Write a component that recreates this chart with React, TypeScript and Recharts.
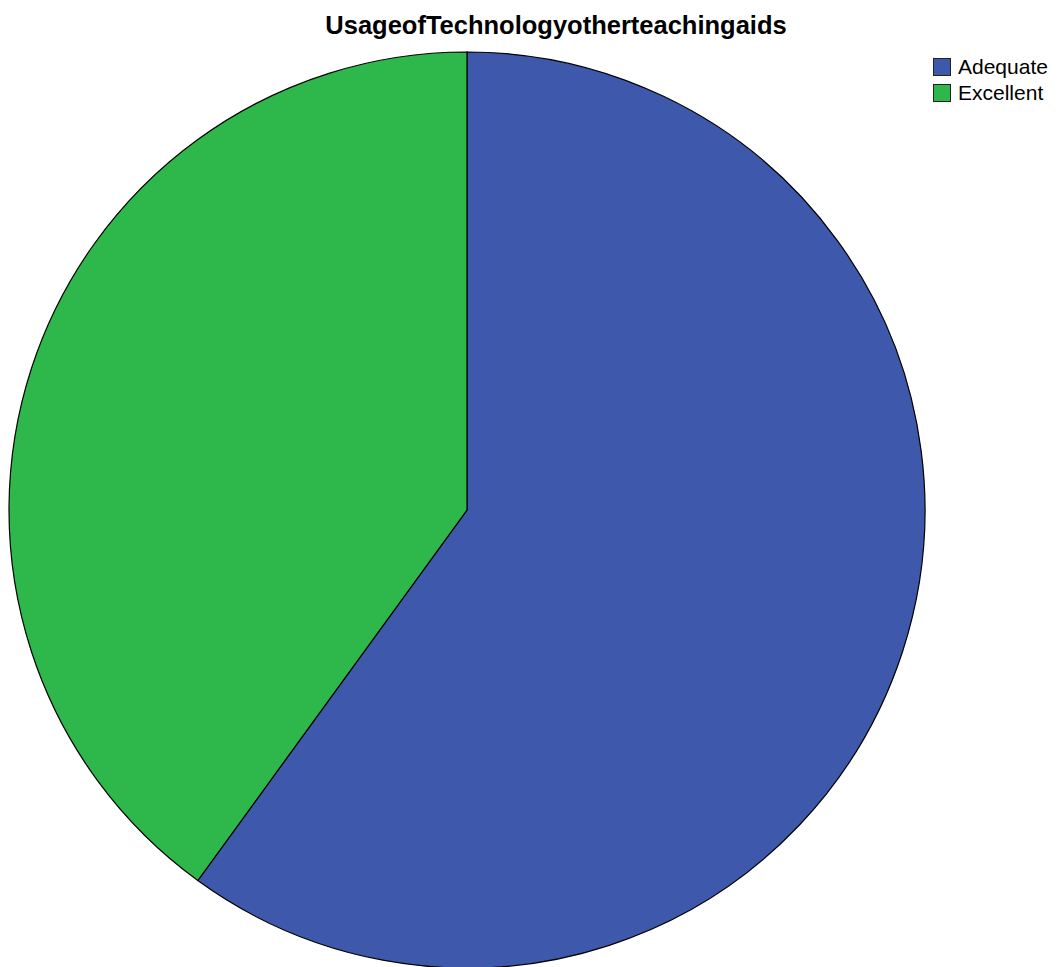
import React from 'react';
import { PieChart, Pie, Cell, Legend } from 'recharts';

const categories = ['Adequate', 'Excellent'];
const values = [60, 40];
const colors = ['#3E58AC', '#2EB84B'];
const title = 'UsageofTechnologyotherteachingaids';

const data = categories.map((name, i) => ({ name, value: values[i] }));

const LegendContent = () => (
  <div style={{ fontFamily: '"Liberation Sans", Arial, sans-serif', fontSize: 21, color: '#000' }}>
    {data.map((d, i) => (
      <div key={d.name} style={{ display: 'flex', alignItems: 'center', height: 26 }}>
        <div
          style={{
            width: 18,
            height: 18,
            background: colors[i],
            border: '1px solid #222',
            marginRight: 7,
            boxSizing: 'border-box',
          }}
        />
        <span style={{ lineHeight: '26px' }}>{d.name}</span>
      </div>
    ))}
  </div>
);

export default function App() {
  return (
    <div style={{ position: 'absolute', left: 0, top: 0, width: 1058, height: 967, background: '#fff' }}>
      <div
        style={{
          position: 'absolute',
          left: 0,
          width: 1112,
          top: 8,
          textAlign: 'center',
          fontFamily: '"Liberation Sans", Arial, sans-serif',
          fontWeight: 'bold',
          fontSize: 25.5,
          lineHeight: '34px',
          color: '#000',
          zIndex: 2,
        }}
      >
        {title}
      </div>
      <PieChart width={1058} height={967} margin={{ top: 0, right: 0, bottom: 0, left: 0 }}>
        <Pie
          data={data}
          dataKey="value"
          nameKey="name"
          cx={467}
          cy={510}
          outerRadius={458}
          startAngle={90}
          endAngle={-270}
          stroke="#000"
          strokeWidth={1.2}
          isAnimationActive={false}
          label={false}
          labelLine={false}
        >
          {data.map((d, i) => (
            <Cell key={d.name} fill={colors[i]} />
          ))}
        </Pie>
        <Legend
          layout="vertical"
          align="right"
          verticalAlign="top"
          content={<LegendContent />}
          wrapperStyle={{ left: 933, top: 54, width: 125 }}
        />
      </PieChart>
    </div>
  );
}
